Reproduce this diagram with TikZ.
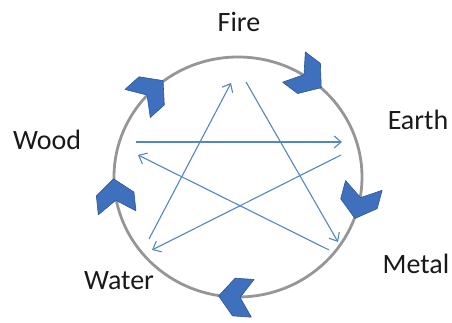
\documentclass[tikz,border=0pt]{standalone}
\usepackage{fontspec}
\setmainfont{Carlito}
\usetikzlibrary{arrows.meta}
\definecolor{ringgray}{RGB}{150,150,150}
\definecolor{chevfill}{RGB}{62,112,190}
\definecolor{chevline}{RGB}{45,85,150}
\definecolor{starblue}{RGB}{84,134,196}
\tikzset{
  ring/.style={draw=ringgray, line width=2.8pt},
  chev/.style={fill=chevfill, draw=chevline, line width=0.6pt, line join=round},
  starline/.style={draw=starblue, line width=1.1pt, -{Straight Barb[length=7pt,width=12pt,line width=1.1pt]}},
  elabel/.style={font=\fontsize{28}{32}\selectfont, text=black!90, anchor=base, inner sep=0pt}
}
\newcommand{\chevronat}[1]{%
  \draw[chev, shift={({238+124*cos(#1)},{146+120*sin(#1)})}, rotate=#1-90, scale=0.9]
    (12,0) -- (-5,21) -- (-26,21) -- (-12,0) -- (-26,-21) -- (-5,-21) -- cycle;}
\begin{document}
\begin{tikzpicture}[x=1pt,y=1pt]
\useasboundingbox (0,0) rectangle (452,323);
% ring
\draw[ring] (238,146) ellipse [x radius=124, y radius=120];
% chevrons (clockwise direction)
\chevronat{132}
\chevronat{53}
\chevronat{-15}
\chevronat{-94}
\chevronat{186}
% labels
\node[elabel] (fire) at (239,291) {Fire};
\node[elabel] (earth) at (418,193) {Earth};
\node[elabel] (wood) at (47,173) {Wood};
\node[elabel] (metal) at (416,49) {Metal};
\node[elabel] (water) at (119,33) {Water};
% star endpoints
\coordinate (L1) at (136,181);
\coordinate (R1) at (342,181);
\coordinate (R2) at (341,168);
\coordinate (BL1) at (152,73);
\coordinate (BL2) at (149,84);
\coordinate (T1) at (231,240);
\coordinate (T2) at (246,241);
\coordinate (BR1) at (338,81);
\coordinate (BR2) at (329,73);
\coordinate (L2) at (138,168);
% star connectors
\draw[starline] (L1) -- (R1);
\draw[starline] (R2) -- (BL1);
\draw[starline] (BL2) -- (T1);
\draw[starline] (T2) -- (BR1);
\draw[starline] (BR2) -- (L2);
\end{tikzpicture}
\end{document}
